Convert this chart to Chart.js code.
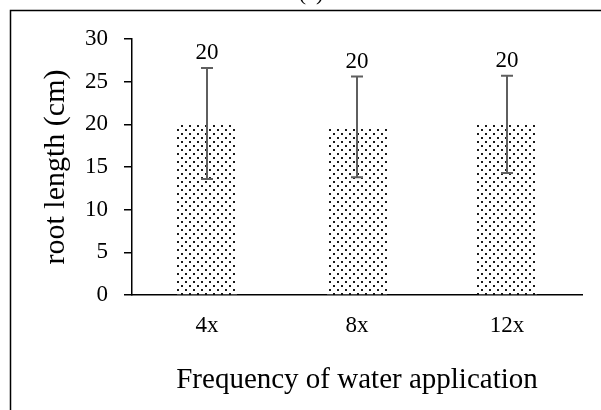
<!DOCTYPE html>
<html>
<head>
<meta charset="utf-8">
<script src="https://cdn.jsdelivr.net/npm/chart.js@4.4.1/dist/chart.umd.min.js"></script>
<style>
  html, body { margin: 0; padding: 0; background: #ffffff; }
  #chart { display: block; }
</style>
</head>
<body>
<canvas id="chart" width="601" height="410"></canvas>
<script>
// Data
const categories = ['4x', '8x', '12x'];
const rootLength = [20.1, 19.7, 20.0];
const rootLengthErr = [6.5, 5.9, 5.7];
const yTicks = [0, 5, 10, 15, 20, 25, 30];

const FONT = '"Liberation Serif", "Times New Roman", serif';

// dotted fill like the Excel pattern
function makeDotPattern() {
    const tile = document.createElement('canvas');
    tile.width = 8;
    tile.height = 8;
    const c = tile.getContext('2d');
    c.fillStyle = '#ffffff';
    c.fillRect(0, 0, 8, 8);
    c.fillStyle = '#1a1a1a';
    c.fillRect(1, 1, 2, 2);
    c.fillRect(5, 5, 2, 2);
    return c.createPattern(tile, 'repeat');
}

const ctx = document.getElementById('chart').getContext('2d');

// outer frame plus the cut-off panel letter at the top
const framePlugin = {
    id: 'frame',
    beforeDraw(chart) {
        const c = chart.ctx;
        c.save();
        c.fillStyle = '#ffffff';
        c.fillRect(0, 0, chart.width, chart.height);
        c.strokeStyle = '#000000';
        c.lineWidth = 1.5;
        c.strokeRect(10.5, 10.5, chart.width + 20, chart.height + 20);
        c.fillStyle = '#000000';
        c.font = '22px ' + FONT;
        c.textAlign = 'center';
        c.textBaseline = 'alphabetic';
        c.fillText('(a)', 311, 0);
        c.restore();
    }
};

// error bars and value labels
const errorBarPlugin = {
    id: 'errorBars',
    afterDatasetsDraw(chart) {
        const c = chart.ctx;
        const yScale = chart.scales.y;
        const meta = chart.getDatasetMeta(0);
        c.save();
        meta.data.forEach((bar, i) => {
            const v = rootLength[i];
            const e = rootLengthErr[i];
            const top = yScale.getPixelForValue(v + e);
            const bottom = yScale.getPixelForValue(v - e);
            const x = bar.x;
            c.strokeStyle = '#5f5f5f';
            c.lineWidth = 2;
            c.beginPath();
            c.moveTo(x, top);
            c.lineTo(x, bottom);
            c.moveTo(x - 6, top);
            c.lineTo(x + 6, top);
            c.moveTo(x - 6, bottom);
            c.lineTo(x + 6, bottom);
            c.stroke();

            c.fillStyle = '#000000';
            c.font = '23px ' + FONT;
            c.textAlign = 'center';
            c.textBaseline = 'alphabetic';
            c.fillText(String(Math.round(v)), x, top - 9);
        });
        c.restore();
    }
};

new Chart(ctx, {
    type: 'bar',
    data: {
        labels: categories,
        datasets: [{
            label: 'root length',
            data: rootLength,
            backgroundColor: makeDotPattern(),
            borderWidth: 0,
            barPercentage: 0.4,
            categoryPercentage: 1.0
        }]
    },
    options: {
        responsive: false,
        animation: false,
        layout: {
            padding: { left: 36, right: 19, top: 39, bottom: 9 }
        },
        plugins: {
            legend: { display: false },
            tooltip: { enabled: false },
            title: { display: false }
        },
        scales: {
            x: {
                grid: { display: false, drawTicks: false },
                border: { display: true, color: '#000000', width: 1.5 },
                ticks: {
                    color: '#000000',
                    font: { family: FONT, size: 23 },
                    padding: 17
                },
                title: {
                    display: true,
                    text: 'Frequency of water application',
                    color: '#000000',
                    font: { family: FONT, size: 29 },
                    padding: { top: 4, bottom: 3 }
                },
                afterFit(scale) { scale.height = 106; }
            },
            y: {
                min: 0,
                max: 30,
                afterBuildTicks(scale) {
                    scale.ticks = yTicks.map(v => ({ value: v }));
                },
                grid: {
                    drawOnChartArea: false,
                    drawTicks: true,
                    tickLength: 8,
                    color: '#000000',
                    lineWidth: 1.5
                },
                border: { display: true, color: '#000000', width: 1.5 },
                ticks: {
                    color: '#000000',
                    font: { family: FONT, size: 23 },
                    padding: 16
                },
                title: {
                    display: true,
                    text: 'root length (cm)',
                    color: '#000000',
                    font: { family: FONT, size: 30 },
                    padding: { top: 2, bottom: 4 }
                },
                afterFit(scale) { scale.width = 96; }
            }
        }
    },
    plugins: [framePlugin, errorBarPlugin]
});
</script>
</body>
</html>
